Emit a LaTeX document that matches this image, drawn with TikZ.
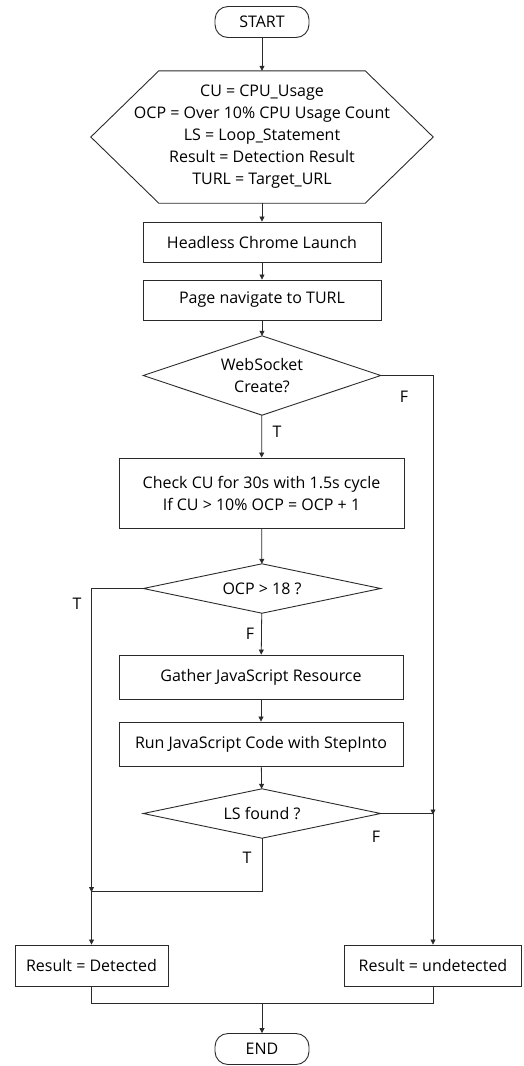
\documentclass[tikz,border=0pt]{standalone}
\usepackage{fontspec}
\setmainfont{Open Sans}
\usetikzlibrary{arrows.meta}
\definecolor{linegray}{HTML}{2A2A2A}
\tikzset{
  base/.style={font=\fontsize{16}{22}\selectfont, align=center, inner sep=0pt},
  termbox/.style={base, draw=linegray, line width=0.9pt, rounded corners=13pt, minimum width=94pt, minimum height=31pt},
  procbox/.style={base, draw=linegray, line width=0.9pt, minimum height=40pt},
  shapebox/.style={base, minimum width=237pt},
  outline/.style={draw=linegray, line width=0.9pt},
  flow/.style={draw=linegray, line width=0.8pt},
  arrow/.style={flow, -{Triangle[length=5pt,width=5pt]}},
  tf/.style={base}
}
\begin{document}
\begin{tikzpicture}[x=1pt,y=-1pt]
\useasboundingbox (0,0) rectangle (524,1066);

% terminals and steps
\node[termbox] (start) at (262,22) {START};
\node[base, minimum width=342pt, minimum height=132pt] (init) at (262,137)
  {CU = CPU\_Usage\\OCP = Over 10\% CPU Usage Count\\LS = Loop\_Statement\\Result = Detection Result\\TURL = Target\_URL};
\draw[outline] (init.west) -- ([xshift=68pt]init.north west) -- ([xshift=-68pt]init.north east)
  -- (init.east) -- ([xshift=-68pt]init.south east) -- ([xshift=68pt]init.south west) -- cycle;
\node[procbox, minimum width=238pt] (launch) at (262,242) {Headless Chrome Launch};
\node[procbox, minimum width=238pt] (nav) at (262,300) {Page navigate to TURL};

% WebSocket decision
\node[shapebox, minimum height=79pt] (ws) at (262,375.5) {WebSocket\\Create?};
\draw[outline] (ws.north) -- (ws.east) -- (ws.south) -- (ws.west) -- cycle;

\node[procbox, minimum width=285pt, minimum height=70pt] (cu) at (261.5,493)
  {Check CU for 30s with 1.5s cycle\\If CU > 10\% OCP = OCP + 1};

% OCP decision
\node[shapebox, minimum height=49pt] (ocp) at (262,588.5) {OCP > 18 ?};
\draw[outline] (ocp.north) -- (ocp.east) -- (ocp.south) -- (ocp.west) -- cycle;

\node[procbox, minimum width=284pt, minimum height=44pt] (gather) at (261,677) {Gather JavaScript Resource};
\node[procbox, minimum width=284pt, minimum height=44pt] (run) at (261,744) {Run JavaScript Code with StepInto};

% loop statement decision
\node[shapebox, minimum height=49pt] (ls) at (262,813.5) {LS found ?};
\draw[outline] (ls.north) -- (ls.east) -- (ls.south) -- (ls.west) -- cycle;

% results
\node[procbox, minimum width=153pt, minimum height=41pt] (det) at (91.5,965.5) {Result = Detected};
\node[procbox, minimum width=177pt, minimum height=41pt] (undet) at (433,965.5) {Result = undetected};
\node[termbox] (end) at (262,1049) {END};

% main flow
\draw[arrow] (start) -- (init);
\draw[arrow] (init) -- (launch);
\draw[arrow] (launch) -- (nav);
\draw[arrow] (nav) -- (ws);
\draw[arrow] (ws) -- (cu);
\draw[arrow] (cu) -- (ocp);
\draw[arrow] (ocp) -- (gather);
\draw[arrow] (gather) -- (run);
\draw[arrow] (run) -- (ls);

% branches
\draw[arrow] (ws.east) -- (ws.east -| undet.north) -- (undet.north);
\draw[arrow] (ocp.west) -- (ocp.west -| det.north) -- (det.north);
\coordinate (lsf) at (ls.east -| undet.north);
\draw[arrow] (ls.east) -- (lsf) -- ++(0,1);
\coordinate (lst) at (262,891);
\coordinate (lsj) at (lst -| det.north);
\draw[arrow] (ls.south) -- (lst) -- (lsj) -- ++(0,1);

% merge into END
\coordinate (mrg) at (262,1003);
\draw[flow] (det.south) -- (det.south |- mrg) -- (undet.south |- mrg) -- (undet.south);
\draw[arrow] (mrg) -- (end);

% branch labels
\node[tf] (t1) at (277,432) {T};
\node[tf] (f1) at (404,397) {F};
\node[tf] (t2) at (77,604) {T};
\node[tf] (f2) at (250,634) {F};
\node[tf] (f3) at (376,837) {F};
\node[tf] (t3) at (247,858) {T};
\end{tikzpicture}
\end{document}
